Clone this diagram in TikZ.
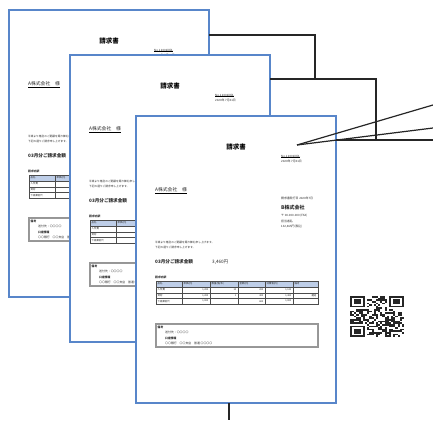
\documentclass[tikz,border=0pt]{standalone}
\usepackage{fontspec}
\newfontfamily\jp{Noto Sans CJK JP}
\usetikzlibrary{calc}

\definecolor{pageblue}{RGB}{88,134,202}
\definecolor{headblue}{RGB}{190,206,232}
\definecolor{notegray}{RGB}{150,150,150}
\definecolor{ink}{RGB}{40,40,40}

\tikzset{
  pagebox/.style={draw=pageblue, line width=1.5pt, fill=white, minimum width=200pt,
    minimum height=287pt, anchor=north west, inner sep=0, outer sep=0},
  txt/.style={font=\jp\fontsize{2.9}{3.2}\selectfont, text=ink, inner sep=0, anchor=west},
  midtxt/.style={font=\jp\fontsize{4.8}{5.2}\selectfont, text=ink, inner sep=0, anchor=west},
  boldtxt/.style={font=\jp\bfseries\fontsize{4.6}{5}\selectfont, text=ink, inner sep=0, anchor=west},
  titletxt/.style={font=\jp\bfseries\fontsize{6.5}{7}\selectfont, inner sep=0},
  celltxt/.style={font=\jp\fontsize{2.4}{3}\selectfont, text=ink, inner sep=0},
  conn/.style={line width=1.5pt, black!85},
  callout/.style={line width=1.2pt, black!85},
}

% one invoice sheet: #1 name prefix, #2/#3 top-left corner
\newcommand\invoicepage[3]{%
\begin{scope}[shift={(#2,#3)}]
  \node[pagebox] (#1) at (0,0) {};
  \node[titletxt] (#1-title) at (100,31) {請求書};
  \node[txt] (#1-no) at (145,40) {No.1\,2002XXX-};
  \draw[line width=0.3pt] (#1-no.south west) -- (#1-no.south east);
  \node[txt] (#1-date) at (145,45.5) {2020年\ 7月31日};
  \node[midtxt] (#1-to) at (19,74) {A株式会社　様};
  \draw[line width=0.4pt] ([yshift=-0.6pt]#1-to.south west) -- ([yshift=-0.6pt]#1-to.south east);
  \node[txt] (#1-issued) at (145,82) {請求書発行日 2020年7月};
  \node[boldtxt, font=\jp\bfseries\fontsize{5}{5.5}\selectfont] (#1-from) at (145,91.5) {B株式会社};
  \node[txt] (#1-tel) at (145,100) {〒 00-000-000 (FAX)};
  \node[txt] (#1-staff) at (145,105.5) {担当者名};
  \node[txt] (#1-acct) at (145,111) {132,465円(税込)};
  \node[txt, font=\jp\fontsize{2.7}{3}\selectfont] (#1-greet1) at (19,126) {平素より格別のご愛顧を賜り御礼申し上げます。};
  \node[txt, font=\jp\fontsize{2.7}{3}\selectfont] (#1-greet2) at (19,131) {下記の通りご請求申し上げます。};
  \node[boldtxt] (#1-sum) at (19,146) {03月分ご請求金額};
  \node[midtxt, font=\jp\fontsize{4.6}{5}\selectfont] (#1-amount) at (76,146) {3,460円};
  \node[txt, font=\jp\bfseries\fontsize{2.8}{3}\selectfont] (#1-detail) at (19,161) {請求内訳};
  % detail table
  \fill[headblue] (20,165) rectangle (182,171);
  \draw[line width=0.35pt, black!70] (20,165) rectangle (182,188);
  \foreach \yy in {171,176.7,182.4} \draw[line width=0.3pt, black!70] (20,\yy) -- (182,\yy);
  \foreach \xx in {46,74,102,129,157} \draw[line width=0.3pt, black!70] (\xx,165) -- (\xx,188);
  \foreach \t [count=\c] in {品名,単価(円),数量(個/本),金額(円),消費税(円),備考}{
    \pgfmathsetmacro\cx{{20,46,74,102,129,157}[\c-1]+1.5}
    \node[celltxt, anchor=west] (#1-h\c) at (\cx,168) {\t};
  }
  \node[celltxt, anchor=west] (#1-r1a) at (21.5,173.9) {人件費};
  \node[celltxt, anchor=east] (#1-r1b) at (72.5,173.9) {1,200};
  \node[celltxt, anchor=east] (#1-r1c) at (100.5,173.9) {10};
  \node[celltxt, anchor=east] (#1-r1d) at (127.5,173.9) {200};
  \node[celltxt, anchor=east] (#1-r1e) at (155.5,173.9) {1,120};
  \node[celltxt, anchor=west] (#1-r2a) at (21.5,179.6) {資材};
  \node[celltxt, anchor=east] (#1-r2b) at (72.5,179.6) {1,200};
  \node[celltxt, anchor=east] (#1-r2c) at (100.5,179.6) {1};
  \node[celltxt, anchor=east] (#1-r2d) at (127.5,179.6) {400};
  \node[celltxt, anchor=east] (#1-r2e) at (155.5,179.6) {1,400};
  \node[celltxt, anchor=east] (#1-r2f) at (180.5,179.6) {運送};
  \node[celltxt, anchor=west] (#1-r3a) at (21.5,185.2) {下請業者代};
  \node[celltxt, anchor=east] (#1-r3b) at (72.5,185.2) {1,000};
  \node[celltxt, anchor=east] (#1-r3d) at (127.5,185.2) {800};
  \node[celltxt, anchor=east] (#1-r3e) at (155.5,185.2) {1,000};
  % remarks box
  \draw[line width=0.9pt, notegray] (19,207) rectangle (182,231);
  \draw[line width=0.25pt, black!40] (20.2,208.2) rectangle (180.8,229.8);
  \node[txt, font=\jp\bfseries\fontsize{2.8}{3}\selectfont] (#1-note) at (21.5,211) {備考};
  \node[txt] (#1-n1) at (29,216.5) {送付先：〇〇〇〇};
  \node[txt, font=\jp\bfseries\fontsize{2.8}{3}\selectfont] (#1-n2) at (29,222) {口座情報};
  \node[txt] (#1-n3) at (29,227.5) {〇〇銀行\quad 〇〇支店\quad 普通\ 〇〇〇〇};
\end{scope}}

\begin{document}
\begin{tikzpicture}[x=1pt, y=-1pt]
  \useasboundingbox (0,0) rectangle (433,420);
  \fill[white] (0,0) rectangle (433,420);

  % stacked sheets, back to front
  \invoicepage{p1}{9}{10}
  \invoicepage{p2}{70}{55}
  \invoicepage{p3}{136}{116}

  % bracket connectors between the sheets
  \coordinate (j1) at (315,79);
  \coordinate (j2) at (376,140);
  \coordinate (out1) at (433,140);
  \draw[conn] (p1.east |- 0,35) -| (j1);
  \draw[conn] (p2.east |- j1) -| (j2);
  \draw[conn] (p3.east |- j2) -- (out1);

  % callout lines from the document number
  \coordinate (tip) at (297,145);
  \coordinate (out2) at (433,105);
  \coordinate (out3) at (433,128);
  \draw[callout] (tip) -- (out2);
  \draw[callout] (tip) -- (out3);

  % lead from the bottom of the front sheet
  \coordinate (out4) at (229,420);
  \draw[conn] (p3.south -| out4) -- (out4);

  % QR code
  \begin{scope}[shift={(350,296)}, x=2.16pt, y=-1.64pt]
    \pgfmathsetseed{4711}
    \foreach \i in {0,...,24}{
      \foreach \j in {0,...,24}{
        \pgfmathrandominteger{\bit}{0}{1}
        \ifnum\bit=1 \fill[black!85] (\i,\j) rectangle ++(1,1);\fi
      }
    }
    \foreach \fx/\fy/\sx/\sy in {0/0/0/0, 18/0/17/0, 0/18/0/17}{
      \fill[white] (\sx,\sy) rectangle ++(8,8);
      \fill[black!85] (\fx,\fy) rectangle ++(7,7);
      \fill[white] (\fx+1,\fy+1) rectangle ++(5,5);
      \fill[black!85] (\fx+2,\fy+2) rectangle ++(3,3);
    }
  \end{scope}
\end{tikzpicture}
\end{document}
